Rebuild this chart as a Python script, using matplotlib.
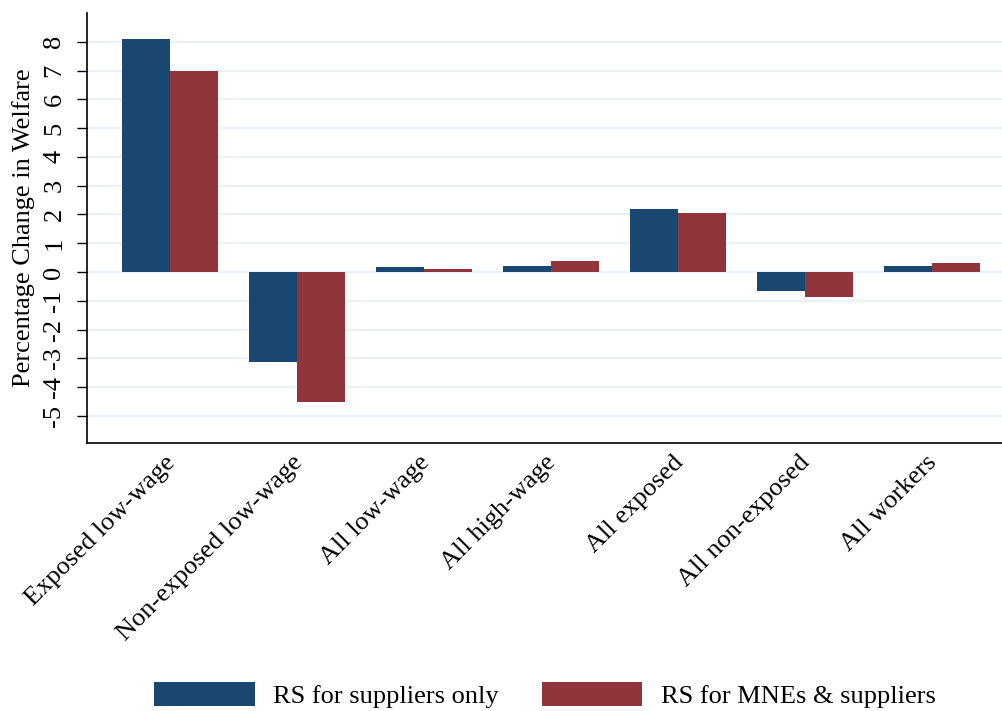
import matplotlib.pyplot as plt
import matplotlib.transforms as mtransforms
import numpy as np
from matplotlib.patches import Patch

plt.rcParams['font.family'] = ['Liberation Serif', 'DejaVu Serif']

categories = ["Exposed low-wage", "Non-exposed low-wage", "All low-wage",
              "All high-wage", "All exposed", "All non-exposed", "All workers"]
suppliers_only = [8.11, -3.14, 0.19, 0.20, 2.18, -0.67, 0.20]
mnes_and_suppliers = [6.97, -4.52, 0.12, 0.40, 2.06, -0.88, 0.32]
yticks = list(range(-5, 9))

blue = '#1a476f'
red = '#90353b'
fs = 19

fig = plt.figure(figsize=(10.03, 7.11), dpi=100)
ax = fig.add_axes([87 / 1003, 1 - 443 / 711, (1015 - 87) / 1003, (443 - 13) / 711])

x = np.arange(len(categories))
w = 0.378
ax.bar(x - w / 2, suppliers_only, width=w, color=blue, zorder=3)
ax.bar(x + w / 2, mnes_and_suppliers, width=w, color=red, zorder=3)

ax.set_ylim(-5.94, 9.0)
ax.set_xlim(-0.654, 6.653)
ax.set_yticks(yticks)
ax.set_yticklabels([str(t) for t in yticks], rotation=90, va='center', fontsize=fs)
ax.yaxis.grid(True, color='#eaf2f3', linewidth=1.6, zorder=0)
ax.set_axisbelow(True)
ax.tick_params(axis='y', length=7.5, width=1, pad=8)

ax.set_xticks(x)
ax.set_xticklabels(categories, rotation=45, ha='right', rotation_mode='anchor', fontsize=fs)
ax.tick_params(axis='x', length=0, pad=6)
# nudge the slanted labels a little to the left
shift = mtransforms.ScaledTranslation(-6 / 100, 0, fig.dpi_scale_trans)
for lbl in ax.get_xticklabels():
    lbl.set_transform(lbl.get_transform() + shift)

ax.set_ylabel("Percentage Change in Welfare", fontsize=fs, labelpad=6)

for s in ['top', 'right']:
    ax.spines[s].set_visible(False)
for s in ['left', 'bottom']:
    ax.spines[s].set_linewidth(1.2)

handles = [Patch(facecolor=blue, label="RS for suppliers only"),
           Patch(facecolor=red, label="RS for MNEs & suppliers")]
fig.legend(handles=handles, loc='center', bbox_to_anchor=(545 / 1003, 1 - 695 / 711),
           ncol=2, frameon=False, fontsize=fs, handlelength=3.8, handleheight=1.0,
           handletextpad=0.7, columnspacing=1.65, borderpad=0, borderaxespad=0)

fig.savefig('out.png', dpi=100)
